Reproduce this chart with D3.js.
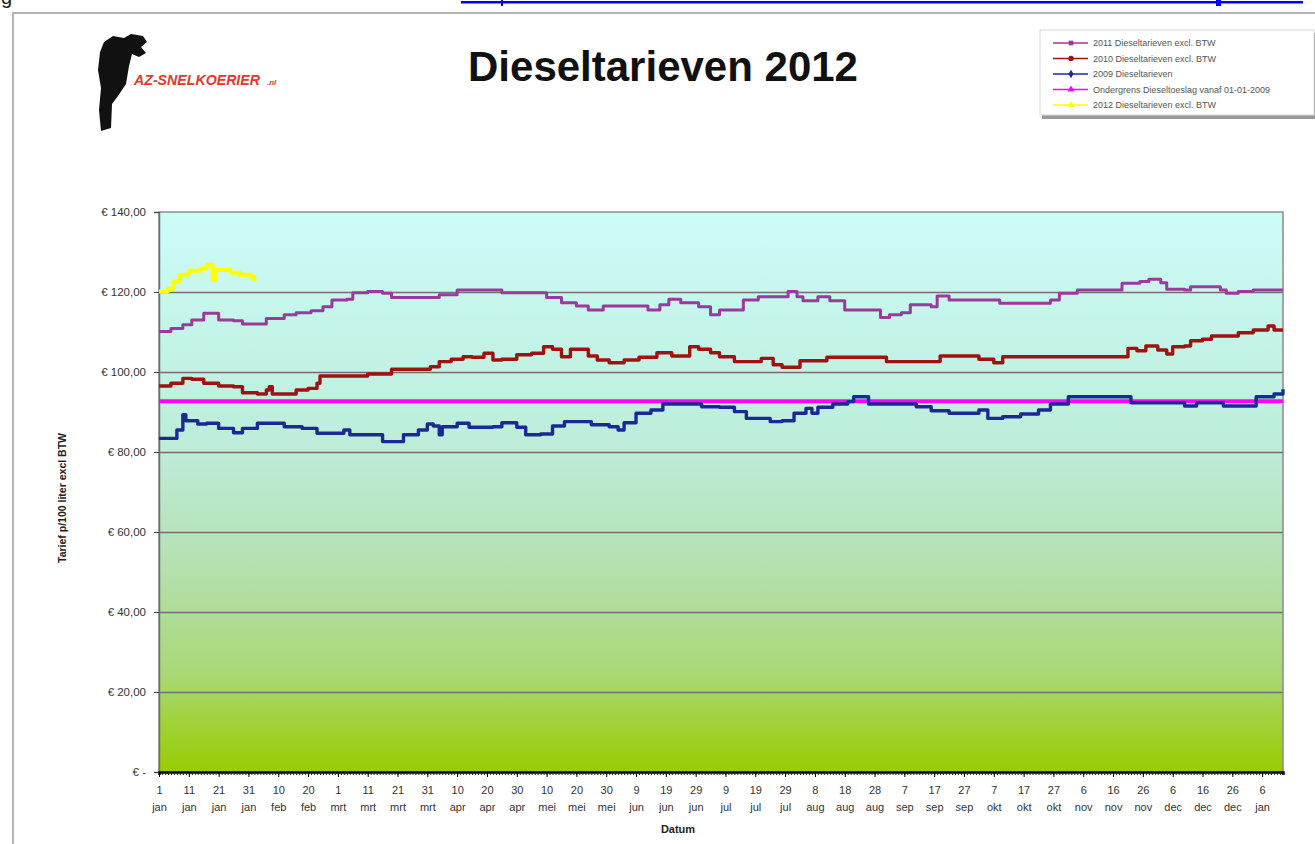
<!DOCTYPE html>
<html>
<head>
<meta charset="utf-8">
<script src="https://cdn.jsdelivr.net/npm/d3@7"></script>
<style>
  body { margin: 0; background: #fff; }
  svg { display: block; font-family: Arial, "Liberation Sans", sans-serif; }
</style>
</head>
<body>
<script>
// Chart data (day = days since 1 jan, value = euro per 100 liter excl. BTW)
var tickDayLabels = ["1","11","21","31","10","20","1","11","21","31","10","20","30","10","20","30",
  "9","19","29","9","19","29","8","18","28","7","17","27","7","17","27","6","16","26","6","16","26","6"];
var tickMonthLabels = ["jan","jan","jan","jan","feb","feb","mrt","mrt","mrt","mrt","apr","apr","apr",
  "mei","mei","mei","jun","jun","jun","jul","jul","jul","aug","aug","aug","sep","sep","sep",
  "okt","okt","okt","nov","nov","nov","dec","dec","dec","jan"];
var yTickValues = [0, 20, 40, 60, 80, 100, 120, 140];

var seriesNames = ["2011 Dieseltarieven excl. BTW", "2010 Dieseltarieven excl. BTW", "2009 Dieseltarieven",
  "Ondergrens Dieseltoeslag vanaf 01-01-2009", "2012 Dieseltarieven excl. BTW"];

var diesel2011 = [[0,110.1],[4,110.9],[8,111.8],[11,113],[15,114.7],[18,114.7],[20,113],[25,112.8],[28,112],
  [33,112],[36,113.4],[42,114.3],[46,114.8],[51,115.3],[55,116.3],[58,118],[63,118.2],[65,119.8],[70,120.1],
  [75,119.7],[78,118.6],[93,118.6],[94,119.3],[100,120.5],[111,120.5],[115,119.8],[128,119.8],[130,118.6],
  [135,117.3],[140,116.5],[144,115.5],[149,116.5],[160,116.5],[164,115.5],[168,116.8],[171,118.2],[175,117.3],
  [181,116.3],[185,114.3],[188,115.5],[194,115.5],[196,118],[201,118.8],[208,118.8],[211,120.1],[214,118.8],
  [216,117.8],[221,118.8],[225,117.8],[230,115.5],[241,115.5],[242,113.6],[245,114.3],[249,114.8],[252,116.8],
  [259,116.3],[261,119],[265,118],[280,118],[282,117.2],[296,117.2],[299,118],[302,119.7],[308,120.5],
  [321,120.5],[323,122.2],[329,122.6],[332,123.2],[336,122.3],[338,120.7],[344,120.5],[346,121.3],[353,121.3],
  [356,120.5],[358,119.7],[362,120.1],[367,120.5],[377,120.5]];

var diesel2010 = [[0,96.5],[4,97.2],[8,98.4],[11,98.2],[15,97.2],[20,96.5],[25,96.3],[28,94.8],[33,94.5],
  [36,95.5],[37,96.3],[38,94.5],[43,94.5],[46,95.5],[50,95.9],[53,97.2],[54,99],[66,99],[70,99.5],[78,100.7],
  [91,101.3],[94,102.6],[98,103.2],[102,103.8],[105,103.7],[109,104.7],[112,103],[115,103.2],[120,104.3],
  [125,104.7],[129,106.3],[132,105.7],[135,103.8],[138,105.7],[140,105.7],[144,104],[147,103],[151,102.3],
  [156,103],[161,103.7],[167,104.8],[172,104],[178,106.3],[181,105.7],[185,104.8],[188,103.8],[193,102.6],
  [198,102.6],[202,103.4],[206,101.8],[209,101.2],[214,101.2],[215,102.8],[223,102.8],[224,103.7],[243,103.7],
  [244,102.6],[260,102.6],[262,104],[273,104],[275,103.2],[280,102.3],[283,103.8],[321,103.8],[325,105.9],
  [328,105.3],[331,106.5],[335,105.5],[338,104.5],[340,106.3],[344,106.5],[346,107.8],[350,108.2],[353,109],
  [360,109],[362,109.8],[367,110.5],[372,111.5],[374,110.5],[377,110.5]];

var diesel2009 = [[0,83.4],[5,83.4],[6,85.5],[8,89.3],[9,87.8],[13,87],[16,87.2],[20,85.9],[25,84.8],[28,85.9],
  [33,87.2],[37,87.2],[42,86.3],[48,85.9],[53,84.7],[60,84.7],[62,85.5],[64,84.3],[71,84.3],[75,82.6],[80,82.6],
  [82,84.3],[87,85.5],[90,87],[92,86.5],[94,84.3],[95,86.3],[100,87.2],[104,86.2],[112,86.3],[115,87.3],
  [120,86.2],[123,84.3],[128,84.5],[132,86.5],[136,87.6],[142,87.6],[145,86.8],[151,86.3],[154,85.5],[156,87.3],
  [160,89.7],[165,90.5],[169,92],[176,92],[182,91.3],[188,91.2],[193,90.1],[197,88.4],[202,88.4],[205,87.6],
  [209,87.8],[213,89.7],[217,90.9],[219,89.7],[221,91.2],[226,92],[231,92.6],[233,93.8],[236,93.8],[238,92],
  [251,92],[254,91.3],[259,90.3],[265,89.7],[272,89.7],[275,90.5],[278,88.4],[283,88.8],[289,89.5],[295,90.5],
  [299,92],[305,93.8],[323,93.8],[326,92.3],[341,92.3],[344,91.5],[348,92.3],[357,91.5],[366,91.5],[368,93.8],
  [374,94.5],[377,95.7]];

var ondergrens = [[0,92.7],[377,92.7]];

var diesel2012 = [[0,120.1],[3,120.9],[5,122.6],[7,124.3],[10,125.3],[14,125.9],[16,126.8],[18,123],[19,125.5],
  [24,124.8],[27,124.3],[31,123.8],[32,122.6]];

var seriesColors = ["#9b3a9b", "#9e1212", "#1b2a92", "#ff00ff", "#ffff00"];

// Size and layout
var width = 1315, height = 844;
var plot = {left: 159, right: 1283, top: 212, bottom: 772};

var svg = d3.select("body").append("svg")
  .attr("width", width)
  .attr("height", height);

var defs = svg.append("defs");
var grad = defs.append("linearGradient")
  .attr("id", "bg")
  .attr("x1", 0).attr("y1", 0).attr("x2", 0).attr("y2", 1);
[["0%", "#cdfbf8"], ["40%", "#bdeedb"], ["60%", "#b6e2b8"], ["82%", "#a9d878"], ["100%", "#99cc00"]]
  .forEach(function(s) { grad.append("stop").attr("offset", s[0]).attr("stop-color", s[1]); });

// Page bits above the chart (cut off link + letter)
svg.append("text").attr("x", 1).attr("y", 4).attr("font-size", 20).attr("fill", "#222").text("g");
svg.append("rect").attr("x", 461).attr("y", 1).attr("width", 842).attr("height", 2.5).attr("fill", "#0000ee");
svg.append("rect").attr("x", 501).attr("y", 0).attr("width", 2).attr("height", 6).attr("fill", "#0000ee");
svg.append("rect").attr("x", 1216).attr("y", 0).attr("width", 5).attr("height", 6).attr("fill", "#0000ee");

// Outer chart frame
svg.append("rect")
  .attr("x", 13).attr("y", 13).attr("width", 1330).attr("height", 850)
  .attr("fill", "#fff").attr("stroke", "#b4b4b4").attr("stroke-width", 2);

// Logo
var logo = svg.append("g");
logo.append("path")
  .attr("d", "M104,42 L113,36 L124,38 L131,34 L143,36 L147,42 L141,47 L146,53 L139,57 L132,54 L129,66 " +
             "L126,84 L118,96 L112,104 L111,128 L101,131 L99,110 L101,88 L98,70 L100,52 Z")
  .attr("fill", "#111");
logo.append("text")
  .attr("x", 134).attr("y", 85)
  .attr("font-size", 15).attr("font-weight", "bold").attr("font-style", "italic")
  .attr("fill", "#e8362a")
  .attr("textLength", 126).attr("lengthAdjust", "spacingAndGlyphs")
  .text("AZ-SNELKOERIER");
logo.append("text")
  .attr("x", 267).attr("y", 85)
  .attr("font-size", 8).attr("font-weight", "bold").attr("font-style", "italic")
  .attr("fill", "#e8362a").text(".nl");

// Title
svg.append("text")
  .attr("x", 663).attr("y", 81)
  .attr("text-anchor", "middle")
  .attr("font-size", 42).attr("font-weight", "bold").attr("fill", "#111")
  .text("Dieseltarieven 2012");

// Scales
var x = d3.scaleLinear().domain([0, 377]).range([plot.left, plot.right]);
var y = d3.scaleLinear().domain([0, 140]).range([plot.bottom, plot.top]);

// Plot background
svg.append("rect")
  .attr("x", plot.left).attr("y", plot.top)
  .attr("width", plot.right - plot.left).attr("height", plot.bottom - plot.top)
  .attr("fill", "url(#bg)");

// Gridlines
var grid = svg.append("g")
  .attr("transform", "translate(" + plot.left + ",0)")
  .call(d3.axisLeft(y).tickValues(yTickValues.slice(1, -1)).tickSize(-(plot.right - plot.left)).tickFormat(""));
grid.select(".domain").remove();
grid.selectAll("line").attr("stroke", "#6f6f6f").attr("stroke-width", 1.6);

// Plot frame
svg.append("path")
  .attr("d", "M" + plot.left + "," + plot.bottom + "V" + plot.top + "H" + plot.right + "V" + plot.bottom)
  .attr("fill", "none").attr("stroke", "#8a8a8a").attr("stroke-width", 1.5);

// Y axis
var fmt = function(v) { return v === 0 ? "€     -" : "€ " + v.toFixed(2).replace(".", ","); };
var yAxis = svg.append("g")
  .attr("transform", "translate(" + plot.left + ",0)")
  .call(d3.axisLeft(y).tickValues(yTickValues).tickSize(5).tickPadding(8).tickFormat(fmt));
yAxis.select(".domain").attr("stroke", "#6f6f6f").attr("stroke-width", 1.5);
yAxis.selectAll("line").attr("stroke", "#444");
yAxis.selectAll("text").attr("font-size", 11.5).attr("fill", "#333").attr("font-family", "Arial, sans-serif");

// X axis: day ticks and labelled ticks every 10 days
var dayTicks = svg.append("g")
  .attr("transform", "translate(0," + plot.bottom + ")")
  .call(d3.axisBottom(x).tickValues(d3.range(0, 378)).tickSize(3).tickFormat(""));
dayTicks.select(".domain").attr("stroke", "#000").attr("stroke-width", 2.5);
dayTicks.selectAll("line").attr("stroke", "#222");

var labelDays = tickDayLabels.map(function(d, i) { return i * 10; });
var xAxis = svg.append("g")
  .attr("transform", "translate(0," + plot.bottom + ")")
  .call(d3.axisBottom(x).tickValues(labelDays).tickSize(5).tickFormat(""));
xAxis.select(".domain").remove();
xAxis.selectAll(".tick line").attr("stroke", "#000");
xAxis.selectAll(".tick").each(function(d, i) {
  var t = d3.select(this).append("text")
    .attr("fill", "#333").attr("font-size", 11).attr("text-anchor", "middle")
    .attr("font-family", "Arial, sans-serif");
  t.append("tspan").attr("x", 0).attr("y", 22).text(tickDayLabels[i]);
  t.append("tspan").attr("x", 0).attr("y", 39).text(tickMonthLabels[i]);
});

// Axis titles
svg.append("text")
  .attr("x", (plot.left + plot.right) / 2 - 43).attr("y", 833)
  .attr("text-anchor", "middle").attr("font-size", 11).attr("font-weight", "bold").attr("fill", "#222")
  .text("Datum");
svg.append("text")
  .attr("transform", "translate(66,498) rotate(-90)")
  .attr("text-anchor", "middle").attr("font-size", 10.5).attr("font-weight", "bold").attr("fill", "#222")
  .text("Tarief p/100 liter excl BTW");

// Lines (daily prices move in steps)
var line = d3.line()
  .curve(d3.curveStepAfter)
  .x(function(d) { return x(d[0]); })
  .y(function(d) { return y(d[1]); });

var allSeries = [diesel2011, diesel2010, diesel2009, ondergrens, diesel2012];
var widths = [3, 3.4, 3.4, 4, 4];
var drawOrder = [3, 0, 1, 2, 4];
drawOrder.forEach(function(i) {
  svg.append("path")
    .datum(allSeries[i])
    .attr("fill", "none")
    .attr("stroke", seriesColors[i])
    .attr("stroke-width", widths[i])
    .attr("stroke-linejoin", "round")
    .attr("d", line);
});

// Legend
var legend = svg.append("g").attr("transform", "translate(1040,30)");
legend.append("rect").attr("x", 2).attr("y", 3).attr("width", 276).attr("height", 86).attr("fill", "#999");
legend.append("rect").attr("width", 274).attr("height", 85)
  .attr("fill", "#fff").attr("stroke", "#d8d8d8");
var symbols = [d3.symbolSquare, d3.symbolCircle, d3.symbolDiamond, d3.symbolTriangle, d3.symbolTriangle];
var items = legend.selectAll(".item")
  .data(seriesNames)
  .enter().append("g")
  .attr("transform", function(d, i) { return "translate(0," + (13 + i * 15.5) + ")"; });
items.append("line")
  .attr("x1", 13).attr("x2", 48)
  .attr("stroke", function(d, i) { return seriesColors[i]; })
  .attr("stroke-width", 1.5);
items.append("path")
  .attr("transform", "translate(31,0)")
  .attr("d", function(d, i) { return d3.symbol().type(symbols[i]).size(22)(); })
  .attr("fill", function(d, i) { return seriesColors[i]; });
items.append("text")
  .attr("x", 53).attr("y", 3)
  .attr("font-size", 9).attr("fill", "#555")
  .text(function(d) { return d; });
</script>
</body>
</html>
